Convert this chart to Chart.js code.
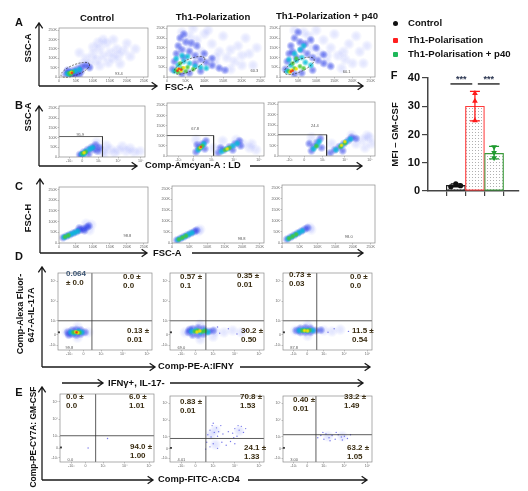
<!DOCTYPE html>
<html>
<head>
<meta charset="utf-8">
<script src="https://cdn.jsdelivr.net/npm/chart.js@4.4.1/dist/chart.umd.min.js"></script>
<style>
body { margin: 0; background: #fff; }
#fig { position: relative; width: 528px; height: 491px; overflow: hidden;
       font-family: "Liberation Sans", Arial, sans-serif; color: #111; }
.t { position: absolute; white-space: nowrap; font-weight: bold; line-height: 1; }
canvas { position: absolute; }
svg { position: absolute; left: 0; top: 0; }
</style>
</head>
<body>
<div id="fig"></div>
<script>
// ---- panel F: MFI of GM-CSF ----
const groups = ['Control', 'Th1-Polarisation', 'Th1-Polarisation + p40'];
const mfiMean = [2.0, 30.0, 13.3];
const mfiLow = [1.5, 24.8, 11.4];
const mfiHigh = [2.5, 35.3, 15.8];
const ctrlReps = [1.5, 2.5, 1.9];
const th1Reps = [34.6, 31.8, 24.9];
const p40Reps = [15.6, 13.6, 11.7];
const mfiTicks = [0, 10, 20, 30, 40];
const sigText = '***';
const sigLevel = 37.9;

// ---- flow plots: tick values / labels ----
const linTicks = [0, 50, 100, 150, 200, 250];
const linLabels = ['0', '50K', '100K', '150K', '200K', '250K'];
const biexXTicks = [0.52, 1.18, 2.0, 3.0, 4.13];
const biexYTicks = [0.26, 0.87, 1.65, 2.74, 3.87];
const biexLabels = ['-10³', '0', '10³', '10⁴', '10⁵'];

// ---- row A: FSC-A vs SSC-A (K units) ----
const cloudA1 = {
    haze: [[90,70],[110,90],[130,110],[150,130],[170,150],[120,150],[160,100],[100,120],[190,140],[140,180],[80,100],[210,110],[70,70],[120,60],[180,70],[130,200],[100,160],[160,200],[200,180],[60,130],[145,75],[175,115],[115,185],[225,150]],
    low: [[20,15],[30,25],[42,35],[55,45],[68,55],[80,62],[35,12],[50,20],[65,30],[25,35],[90,50],[45,8],[60,12]],
    mid: [[25,18],[35,25],[48,32],[60,40],[30,12]],
    high: [[30,20],[40,27],[34,16]],
    top: [[36,24]],
    peak: [[38,22]]
};
const cloudA2 = {
    haze: [[60,150],[80,190],[100,220],[120,170],[140,130],[160,100],[180,80],[200,60],[110,240],[150,210],[190,160],[220,120],[230,60],[170,40],[130,60],[40,230],[70,250],[210,200],[240,150],[90,130],[130,100],[60,210],[170,140],[200,110]],
    low: [[15,40],[20,80],[25,120],[30,160],[35,200],[45,100],[60,130],[75,110],[90,90],[105,75],[120,60],[140,45],[155,35],[60,20],[90,30],[40,15],[50,180],[80,160],[45,220],[65,175],[100,120],[120,95],[75,70],[40,140]],
    mid: [[20,30],[30,60],[45,80],[60,70],[75,55],[90,50],[40,110],[105,45],[25,95],[55,105]],
    high: [[25,35],[40,45],[55,50],[35,70],[70,40],[50,30],[30,25]],
    top: [[30,40],[45,48],[38,30]],
    peak: [[32,42],[38,38],[28,32]]
};
const cloudA3 = {
    haze: [[60,170],[80,210],[100,240],[120,190],[140,150],[160,110],[180,90],[200,70],[150,220],[190,170],[220,130],[230,70],[170,45],[130,70],[40,240],[210,210],[240,160],[110,120],[90,150],[130,110],[175,130],[65,230]],
    low: [[15,40],[20,80],[25,120],[30,160],[40,200],[50,230],[45,100],[60,140],[75,120],[90,100],[105,85],[120,70],[140,55],[60,20],[90,35],[40,15],[70,170],[100,150],[85,190],[55,180],[120,115],[35,130]],
    mid: [[20,30],[30,60],[45,85],[60,100],[70,75],[85,60],[40,120],[55,140],[25,90],[65,160]],
    high: [[25,30],[40,45],[55,55],[35,70],[65,45],[45,95]],
    top: [[32,35],[45,42],[28,25]],
    peak: [[35,33],[30,28]]
};
const gateA = [
    { cx: 48, cy: 38, rx: 45, ry: 28, rot: -22 },
    { cx: 60, cy: 60, rx: 45, ry: 30, rot: -25 },
    { cx: 53, cy: 57, rx: 45, ry: 30, rot: -25 }
];
const pctA = [['93.4', 165, 19], ['60.3', 223, 29], ['60.1', 173, 24]];

// ---- row B: live/dead vs SSC-A ----
const cloudB1 = {
    haze: [[2.2,30],[2.6,40],[3.0,35],[3.4,30],[3.8,25],[2.4,60],[2.8,20],[1.9,75],[4.1,30],[3.2,55],[2.3,15],[3.6,45]],
    low: [[1.05,12],[1.25,25],[1.45,38],[1.65,50],[1.85,62],[1.95,30],[1.5,15],[2.05,48],[1.15,8],[1.75,38]],
    mid: [[1.15,15],[1.35,28],[1.55,40],[1.7,48],[1.25,12]],
    high: [[1.2,18],[1.35,26]],
    top: [[1.27,22]],
    peak: []
};
const cloudB2 = {
    haze: [[2.1,40],[3.4,60],[3.7,40],[4.0,30],[2.5,75],[3.1,80],[1.3,80],[3.8,60]],
    low: [[1.3,20],[1.45,40],[1.6,60],[1.75,75],[1.35,55],[2.3,15],[2.55,30],[2.8,45],[3.05,60],[3.25,75],[2.95,30],[1.7,35],[3.3,50],[2.4,40]],
    mid: [[1.4,30],[1.55,45],[1.65,60],[2.45,22],[2.7,35],[2.95,50],[3.15,62]],
    high: [[1.45,38],[1.58,50],[2.6,30],[2.8,40]],
    top: [[1.5,42],[2.7,35]],
    peak: [[1.52,45]]
};
const cloudB3 = {
    haze: [[3.5,60],[3.8,80],[4.1,90],[3.9,40],[1.5,90],[2.4,60],[3.3,100],[4.2,60],[4.0,100]],
    low: [[1.5,25],[1.6,45],[1.75,65],[1.9,85],[1.95,40],[2.35,15],[2.55,30],[2.75,45],[2.95,60],[3.15,75],[3.3,90],[2.9,25],[3.5,85],[1.4,60]],
    mid: [[1.6,35],[1.75,52],[1.85,70],[2.6,30],[2.85,50],[3.05,68],[3.25,82]],
    high: [[1.72,48],[2.8,45],[3.0,62]],
    top: [[3.0,70],[2.85,52]],
    peak: []
};
const gateB = [[2.2, 105], [2.09, 101], [2.18, 103]];
const pctB = [['95.9', 0.88, 114], ['67.8', 1.09, 133], ['24.4', 1.48, 148]];

// ---- row C: FSC-A vs FSC-H ----
const cloudC1 = {
    haze: [[90,60],[95,85],[80,90]],
    low: [[12,25],[22,32],[32,39],[42,46],[52,53],[62,60],[72,67],[82,74],[88,80],[75,58],[60,70]],
    mid: [[15,27],[25,34],[35,41],[45,48],[55,55]],
    high: [[18,29],[28,36]]
};
const cloudC2 = {
    haze: [[75,55],[80,62]],
    low: [[14,13],[24,21],[34,29],[44,37],[54,45],[64,53],[70,58]],
    mid: [[17,15],[27,23],[37,31],[47,39],[57,47]],
    high: [[20,17],[30,25],[40,33]]
};
const cloudC3 = {
    haze: [[78,70],[82,60]],
    low: [[14,17],[24,26],[34,35],[44,44],[54,53],[64,62],[72,69]],
    mid: [[17,19],[27,28],[37,37],[47,46],[57,55]],
    high: [[20,21],[30,30],[40,39]]
};
const pctC = [['98.8', 190, 35], ['98.8', 187, 17], ['98.0', 177, 28]];

// ---- row D: IFNγ vs IL-17A ----
const cloudD1 = {
    haze: [[0.4,1.0],[1.4,1.0],[0.9,1.3],[0.9,0.7]],
    low: [[0.45,1.0],[0.65,0.9],[0.65,1.12],[0.85,0.85],[0.85,1.15],[1.05,0.9],[1.05,1.12],[1.25,1.0],[0.5,0.85]],
    mid: [[0.6,1.0],[0.75,0.95],[0.95,1.05],[1.1,1.0]],
    high: [[0.72,1.0],[0.88,1.0],[1.0,0.98]],
    top: [[0.82,1.02],[0.92,0.98]],
    peak: [[0.86,1.0]],
    edge: [[0.04,1.0]]
};
const cloudD2 = {
    haze: [[0.7,1.0],[2.1,1.05],[2.5,1.0],[2.9,1.1],[3.3,1.0],[1.4,1.45],[1.4,0.6],[2.0,0.75]],
    low: [[0.85,1.0],[1.05,1.2],[1.05,0.85],[1.3,1.25],[1.3,0.85],[1.55,1.2],[1.55,0.9],[1.8,1.05],[2.0,1.1],[0.9,1.15]],
    mid: [[1.0,1.05],[1.2,1.1],[1.4,1.0],[1.6,1.1],[1.75,1.0]],
    high: [[1.15,1.05],[1.3,1.1],[1.5,1.05],[1.62,1.08]],
    top: [[1.38,1.07],[1.25,1.02]],
    dots: [[2.3,0.95],[2.7,1.2],[3.1,0.9],[3.5,1.1],[2.2,1.3]],
    edge: [[0.04,1.0]]
};
const cloudD3 = {
    haze: [[0.6,1.1],[2.0,1.1],[2.4,1.05],[2.8,1.15],[1.2,1.4],[1.2,0.8]],
    low: [[0.65,1.1],[0.85,1.0],[0.85,1.22],[1.1,1.0],[1.1,1.25],[1.35,1.0],[1.35,1.22],[1.6,1.1],[1.85,1.12]],
    mid: [[0.8,1.1],[1.0,1.12],[1.2,1.1],[1.45,1.1]],
    high: [[0.95,1.1],[1.12,1.1],[1.3,1.12]],
    top: [[1.05,1.1],[1.2,1.08]],
    dots: [[2.2,1.0],[2.5,1.2],[3.2,1.05]],
    edge: [[0.04,1.0]]
};
const quadD = [[1.57, 1.65], [1.66, 1.65], [1.65, 1.65]];
const pctD = [['99.8', 0.35, 0.14], ['69.0', 0.35, 0.14], ['87.8', 0.35, 0.14]];
const dUL = [['0.064', '± 0.0'], ['0.57 ±', '0.1'], ['0.73 ±', '0.03']];
const dUR = [['0.0 ±', '0.0'], ['0.35 ±', '0.01'], ['0.0 ±', '0.0']];
const dLR = [['0.13 ±', '0.01'], ['30.2 ±', '0.50'], ['11.5 ±', '0.54']];

// ---- row E: CD4 vs GM-CSF (IFNγ+, IL-17-) ----
const cloudE1 = {
    dots: [[1.3,0.9],[2.2,1.5]],
    edge: [[0.04,0.93]]
};
const cloudE2 = {
    haze: [[2.1,2.1],[3.2,2.05],[2.1,1.15],[1.9,1.8]],
    dots: [[1.75,1.8],[1.85,2.1],[1.95,2.4],[2.05,1.95],[2.15,2.25],[2.25,2.0],[2.35,2.4],[2.45,1.85],[1.9,1.65],[2.2,1.7],[2.0,2.55],[2.9,1.9],[3.0,2.2],[3.1,1.7],[3.2,2.1],[3.3,2.35],[3.4,1.95],[3.5,2.2],[3.15,2.4],[2.95,1.6],[2.7,2.0],[1.7,1.3],[1.85,1.0],[2.0,1.2],[2.2,0.9],[2.4,1.3],[2.6,1.1],[1.65,0.85],[2.8,1.35],[3.0,1.2]],
    edge: [[0.04,0.93]]
};
const cloudE3 = {
    haze: [[2.2,1.7],[2.9,1.7]],
    dots: [[1.7,1.6],[1.85,1.75],[2.0,1.5],[2.1,1.85],[2.25,1.6],[2.4,1.75],[2.55,1.5],[2.7,1.8],[2.85,1.65],[3.0,1.7],[3.15,1.55],[3.3,1.8],[2.3,1.4],[2.6,1.95],[1.95,1.95],[2.9,1.45]],
    edge: [[0.04,0.93]]
};
const quadE = [[1.65, 1.68], [1.66, 1.55], [1.61, 1.8]];
const pctE = [['0.0', 0.35, 0.14], ['4.01', 0.35, 0.14], ['3.00', 0.35, 0.14]];
const eUL = [['0.0 ±', '0.0'], ['0.83 ±', '0.01'], ['0.40 ±', '0.01']];
const eUR = [['6.0 ±', '1.01'], ['70.8 ±', '1.53'], ['33.2 ±', '1.49']];
const eLR = [['94.0 ±', '1.00'], ['24.1 ±', '1.33'], ['63.2 ±', '1.05']];

// ===================== drawing =====================
const FAMILY = '"Liberation Sans", Arial, sans-serif';
Chart.defaults.font.family = FAMILY;
Chart.defaults.animation = false;
Chart.defaults.events = [];
Chart.defaults.plugins.legend.display = false;
Chart.defaults.plugins.tooltip.enabled = false;

const fig = document.getElementById('fig');

// density levels, drawn as soft blobs (higher order = drawn first)
const levelStyle = {
    haze: { r: 6.0, rgb: '70,90,250', a: 0.16, order: 8 },
    low:  { r: 4.6, rgb: '30,50,230', a: 0.6, order: 7 },
    mid:  { r: 3.7, rgb: '0,190,215', a: 0.9, order: 6 },
    high: { r: 3.0, rgb: '70,200,50', a: 0.95, order: 5 },
    top:  { r: 2.4, rgb: '250,225,0', a: 1, order: 4 },
    peak: { r: 1.9, rgb: '235,45,20', a: 1, order: 3 },
    dots: { r: 0.7, rgb: '95,95,230', a: 0.85, order: 2, solid: true },
    edge: { r: 1.3, rgb: '17,17,17', a: 1, order: 1, solid: true }
};

function softFill(st) {
    const flat = `rgba(${st.rgb},${st.a})`;
    if (st.solid) return flat;
    return c => {
        if (c.type !== 'data' || !c.parsed) return flat;
        const ch = c.chart;
        const px = ch.scales.x.getPixelForValue(c.parsed.x);
        const py = ch.scales.y.getPixelForValue(c.parsed.y);
        if (!isFinite(px) || !isFinite(py)) return flat;
        const g = ch.ctx.createRadialGradient(px, py, 0, px, py, st.r);
        g.addColorStop(0, flat);
        g.addColorStop(0.45, `rgba(${st.rgb},${st.a * 0.75})`);
        g.addColorStop(1, `rgba(${st.rgb},0)`);
        return g;
    };
}

function txt(s, x, y, size, opt = {}) {
    const d = document.createElement('div');
    d.className = 't';
    d.textContent = s;
    d.style.left = x + 'px';
    d.style.top = y + 'px';
    d.style.fontSize = size + 'px';
    if (opt.color) d.style.color = opt.color;
    const ax = opt.left ? '0' : '-50%';
    d.style.transform = `translate(${ax},-50%)` + (opt.rot ? ' rotate(-90deg)' : '');
    fig.appendChild(d);
}

function axisCfg(kind, horiz) {
    const vals = kind === 'lin' ? linTicks : (horiz ? biexXTicks : biexYTicks);
    const labels = kind === 'lin' ? linLabels : biexLabels;
    return {
        type: 'linear',
        min: 0,
        max: kind === 'lin' ? 262 : 4.35,
        afterBuildTicks: s => { s.ticks = vals.map(v => ({ value: v })); },
        afterFit: s => { if (horiz) s.height = 6; else s.width = 11; },
        ticks: {
            font: { size: 3.6 }, color: '#666', padding: 0.5,
            autoSkip: false, maxRotation: 0,
            callback: (v, i) => labels[i]
        },
        grid: { drawOnChartArea: false, tickLength: 1.5, color: '#888', lineWidth: 0.5 },
        border: { display: false }
    };
}

const framePlugin = {
    id: 'frame',
    afterDraw(chart) {
        const { ctx, chartArea: a } = chart;
        ctx.save();
        ctx.strokeStyle = '#8a8a8a';
        ctx.lineWidth = 0.7;
        ctx.strokeRect(a.left, a.top, a.right - a.left, a.bottom - a.top);
        ctx.restore();
    }
};

function flowPanel(frame, xKind, yKind, cloud, extra = {}) {
    const [fl, ft, fr, fb] = frame;
    const padL = 11, padB = 6, padT = 2, padR = 3;
    const w = fr - fl + padL + padR, h = fb - ft + padT + padB;
    const c = document.createElement('canvas');
    c.width = w; c.height = h;
    c.style.left = (fl - padL) + 'px';
    c.style.top = (ft - padT) + 'px';
    c.style.width = w + 'px';
    c.style.height = h + 'px';
    fig.appendChild(c);

    const xMax = xKind === 'lin' ? 262 : 4.35;
    const yMax = yKind === 'lin' ? 262 : 4.35;
    const datasets = [];
    Object.keys(cloud).forEach(k => {
        const st = levelStyle[k];
        datasets.push({
            data: cloud[k].map(([x, y]) => ({ x, y })),
            pointRadius: st.r,
            pointBackgroundColor: softFill(st),
            pointBorderWidth: 0,
            pointBorderColor: 'rgba(0,0,0,0)',
            pointStyle: k === 'edge' ? 'rect' : 'circle',
            order: st.order, clip: k === 'edge' ? false : 0
        });
    });
    const gateLine = pts => ({
        data: pts, showLine: true, pointRadius: 0, borderColor: '#333',
        borderWidth: 0.8, order: 0, clip: 0
    });
    if (extra.rect) {
        const [gx, gy] = extra.rect;
        datasets.push(gateLine([{ x: 0, y: gy }, { x: gx, y: gy }, { x: gx, y: 0 }]));
    }
    if (extra.quad) {
        const [qx, qy] = extra.quad;
        datasets.push(gateLine([{ x: qx, y: 0 }, { x: qx, y: yMax }]));
        datasets.push(gateLine([{ x: 0, y: qy }, { x: xMax, y: qy }]));
    }

    const gatePlugin = {
        id: 'gates',
        afterDatasetsDraw(chart) {
            const { ctx, scales: { x, y } } = chart;
            ctx.save();
            if (extra.ellipse) {
                const g = extra.ellipse;
                const px = x.getPixelForValue(g.cx), py = y.getPixelForValue(g.cy);
                const rx = x.getPixelForValue(g.cx + g.rx) - px;
                const ry = py - y.getPixelForValue(g.cy + g.ry);
                ctx.setLineDash([2, 1.3]);
                ctx.strokeStyle = '#333';
                ctx.lineWidth = 0.7;
                ctx.beginPath();
                ctx.ellipse(px, py, rx, ry, g.rot * Math.PI / 180, 0, Math.PI * 2);
                ctx.stroke();
                ctx.setLineDash([]);
            }
            if (extra.pct) {
                const [s, vx, vy] = extra.pct;
                ctx.fillStyle = '#555';
                ctx.font = '4px ' + FAMILY;
                ctx.textBaseline = 'middle';
                ctx.fillText(s, x.getPixelForValue(vx), y.getPixelForValue(vy));
            }
            ctx.restore();
        }
    };

    new Chart(c, {
        type: 'scatter',
        data: { datasets },
        options: {
            responsive: false,
            layout: { padding: { top: padT, right: padR, left: 0, bottom: 0 } },
            scales: { x: axisCfg(xKind, true), y: axisCfg(yKind, false) }
        },
        plugins: [framePlugin, gatePlugin]
    });
}

// panel frames (plot-area boxes, page pixels)
const framesA = [[59, 24, 151, 77], [167, 22, 268, 77], [280, 22, 378, 77]];
const framesB = [[59, 102, 148, 157], [167, 99, 267, 156], [278, 98, 378, 156]];
const framesC = [[59, 183, 151, 243], [172, 182, 267, 243], [282, 181, 378, 243]];
const framesD = [[58, 269, 155, 350], [170, 269, 267, 350], [283, 269, 375, 350]];
const framesE = [[60, 392, 155, 462], [170, 392, 267, 462], [283, 392, 375, 462]];

[cloudA1, cloudA2, cloudA3].forEach((cl, i) =>
    flowPanel(framesA[i], 'lin', 'lin', cl, { ellipse: gateA[i], pct: pctA[i] }));
[cloudB1, cloudB2, cloudB3].forEach((cl, i) =>
    flowPanel(framesB[i], 'biex', 'lin', cl, { rect: gateB[i], pct: pctB[i] }));
[cloudC1, cloudC2, cloudC3].forEach((cl, i) =>
    flowPanel(framesC[i], 'lin', 'lin', cl, { pct: pctC[i] }));
[cloudD1, cloudD2, cloudD3].forEach((cl, i) =>
    flowPanel(framesD[i], 'biex', 'biex', cl, { quad: quadD[i], pct: pctD[i] }));
[cloudE1, cloudE2, cloudE3].forEach((cl, i) =>
    flowPanel(framesE[i], 'biex', 'biex', cl, { quad: quadE[i], pct: pctE[i] }));

// quadrant percentages
const BROWN = '#3a2d12';
function quadText(sets, posList) {
    sets.forEach((set, q) => set.forEach((pair, p) => {
        const [x, y] = posList[p][q];
        txt(pair[0], x, y, 8, { left: true, color: (set === dUL && p === 0) ? '#3c5573' : BROWN });
        txt(pair[1], x, y + 9, 8, { left: true, color: BROWN });
    }));
}
const dPos = [[[66, 274], [123, 277], [127, 331]], [[180, 277], [237, 276], [241, 331]], [[289, 275], [350, 277], [352, 331]]];
const ePos = [[[66, 397], [129, 397], [130, 447]], [[180, 402], [240, 397], [244, 448]], [[293, 400], [344, 397], [347, 448]]];
quadText([dUL, dUR, dLR], dPos);
quadText([eUL, eUR, eLR], ePos);

// ---- arrows ----
const arrows = [
    [39, 86, 39, 23], [39, 86, 157, 86], [200, 86, 363, 86],
    [39, 166, 39, 106], [39, 166, 137, 166], [250, 166, 362, 166],
    [40, 253, 40, 179], [40, 253, 147, 253], [192, 253, 363, 253],
    [42, 367, 42, 267], [42, 367, 155, 367], [240, 367, 370, 367],
    [62, 383, 103, 383], [170, 383, 363, 383],
    [42, 480, 42, 387], [42, 480, 153, 480], [248, 480, 367, 480]
];
const NS = 'http://www.w3.org/2000/svg';
const svg = document.createElementNS(NS, 'svg');
svg.setAttribute('width', 528);
svg.setAttribute('height', 491);
let path = '';
arrows.forEach(([x1, y1, x2, y2]) => {
    path += `M${x1} ${y1}L${x2} ${y2}`;
    const a = Math.atan2(y2 - y1, x2 - x1), L = 6.5, s = 0.6;
    const ax = x2 - L * Math.cos(a - s), ay = y2 - L * Math.sin(a - s);
    const bx = x2 - L * Math.cos(a + s), by = y2 - L * Math.sin(a + s);
    path += `M${ax} ${ay}L${x2} ${y2}L${bx} ${by}`;
});
const pe = document.createElementNS(NS, 'path');
pe.setAttribute('d', path);
pe.setAttribute('stroke', '#1a1a1a');
pe.setAttribute('stroke-width', '1.3');
pe.setAttribute('fill', 'none');
svg.appendChild(pe);
fig.appendChild(svg);

// ---- figure texts ----
txt('A', 19, 22, 11);
txt('B', 19, 105, 11);
txt('C', 19, 186, 11);
txt('D', 19, 256, 11);
txt('E', 19, 392, 11);
txt('F', 394, 75, 11);
txt('Control', 97, 18, 9.6);
txt('Th1-Polarization', 213, 17, 9.6);
txt('Th1-Polarization + p40', 327, 16, 9.6);
txt('SSC-A', 29, 48, 9.3, { rot: true });
txt('SSC-A', 29, 117, 9.3, { rot: true });
txt('FSC-H', 29, 218, 9.3, { rot: true });
txt('Comp-Alexa Fluor-', 20, 314, 9, { rot: true });
txt('647-A-IL-17A', 31, 315, 9, { rot: true });
txt('Comp-PE-CY7A: GM-CSF', 33, 437, 8.4, { rot: true });
txt('FSC-A', 165, 87, 9.4, { left: true });
txt('Comp-Amcyan-A : LD', 145, 166, 9.3, { left: true });
txt('FSC-A', 153, 253, 9.4, { left: true });
txt('Comp-PE-A:IFNY', 158, 367, 9.3, { left: true });
txt('IFNγ+, IL-17-', 108, 383, 9.5, { left: true });
txt('Comp-FITC-A:CD4', 158, 480, 9.3, { left: true });

// legend
const legendColors = ['#111', '#ff1f1f', '#1fb85a'];
groups.forEach((g, i) => {
    const y = [23, 40, 54][i];
    const m = document.createElement('div');
    m.style.cssText = `position:absolute;left:393px;top:${y - 2.5}px;width:5px;height:5px;background:${legendColors[i]};border-radius:${i === 0 ? 3 : 1}px`;
    fig.appendChild(m);
    txt(g, 408, y, 9.6, { left: true });
});

// ---- panel F chart ----
const cF = document.createElement('canvas');
cF.width = 146; cF.height = 132;
cF.style.cssText = 'left:378px;top:68px;width:146px;height:132px';
fig.appendChild(cF);

function dotPattern() {
    const p = document.createElement('canvas');
    p.width = 3; p.height = 3;
    const g = p.getContext('2d');
    g.fillStyle = '#fff';
    g.fillRect(0, 0, 3, 3);
    g.fillStyle = '#b0b0b0';
    g.fillRect(1, 1, 1, 1);
    return cF.getContext('2d').createPattern(p, 'repeat');
}

const barColors = ['#222', '#ff3a3a', '#3a9a3a'];
const repColors = ['#111', '#ff1a1a', '#1f9a2f'];
const ctrlJitter = [-0.26, 0, 0.25];
const sigSpans = [[0.72, 1.86], [2.15, 3.29]];

const errorBarPlugin = {
    id: 'errbars',
    afterDatasetDraw(chart, args) {
        if (args.index !== 3) return;
        const { ctx, scales: { x, y } } = chart;
        ctx.save();
        ctx.lineWidth = 1.3;
        mfiMean.forEach((m, i) => {
            const px = x.getPixelForValue(i + 1);
            const lo = y.getPixelForValue(mfiLow[i]), hi = y.getPixelForValue(mfiHigh[i]);
            ctx.strokeStyle = repColors[i];
            ctx.beginPath();
            ctx.moveTo(px, lo); ctx.lineTo(px, hi);
            ctx.moveTo(px - 5, lo); ctx.lineTo(px + 5, lo);
            ctx.moveTo(px - 5, hi); ctx.lineTo(px + 5, hi);
            ctx.stroke();
        });
        ctx.restore();
    },
    afterDraw(chart) {
        const { ctx, scales: { x, y } } = chart;
        ctx.save();
        ctx.strokeStyle = '#222';
        ctx.lineWidth = 1.4;
        ctx.fillStyle = '#2a3550';
        ctx.font = 'bold 9px ' + FAMILY;
        ctx.textAlign = 'center';
        ctx.textBaseline = 'middle';
        const py = y.getPixelForValue(sigLevel);
        sigSpans.forEach(([a, b]) => {
            const xa = x.getPixelForValue(a), xb = x.getPixelForValue(b);
            ctx.beginPath();
            ctx.moveTo(xa, py); ctx.lineTo(xb, py);
            ctx.stroke();
            ctx.fillText(sigText, (xa + xb) / 2, py - 4.5);
        });
        ctx.restore();
    }
};

new Chart(cF, {
    type: 'bar',
    data: {
        datasets: [
            { type: 'scatter', data: ctrlReps.map((v, k) => ({ x: 1 + ctrlJitter[k], y: v })),
              pointStyle: 'circle', pointRadius: 2.6, pointBackgroundColor: repColors[0], pointBorderWidth: 0, order: 0 },
            { type: 'scatter', data: th1Reps.map(v => ({ x: 2, y: v })),
              pointStyle: 'triangle', pointRadius: 3.3, pointBackgroundColor: repColors[1], pointBorderWidth: 0, order: 0 },
            { type: 'scatter', data: p40Reps.map(v => ({ x: 3, y: v })),
              pointStyle: 'triangle', pointRotation: 180, pointRadius: 3.3, pointBackgroundColor: repColors[2], pointBorderWidth: 0, order: 0 },
            { type: 'bar', data: mfiMean.map((v, i) => ({ x: i + 1, y: v })),
              backgroundColor: dotPattern(), borderColor: barColors, borderWidth: 1.2,
              borderSkipped: false, barThickness: 19, order: 5 }
        ]
    },
    options: {
        responsive: false,
        layout: { padding: { top: 10, right: 5, left: 0, bottom: 0 } },
        scales: {
            x: {
                type: 'linear', min: 0.34, max: 3.51,
                afterBuildTicks: s => { s.ticks = [1, 2, 3].map(v => ({ value: v })); },
                afterFit: s => { s.height = 9; },
                ticks: { callback: () => '', padding: 0 },
                grid: { drawOnChartArea: false, tickLength: 5, color: '#444', lineWidth: 1.2 },
                border: { color: '#444', width: 1.5 }
            },
            y: {
                min: 0, max: 40,
                afterBuildTicks: s => { s.ticks = mfiTicks.map(v => ({ value: v })); },
                afterFit: s => { s.width = 50; },
                ticks: { font: { size: 11, weight: 'bold' }, color: '#111', padding: 2 },
                grid: { drawOnChartArea: false, tickLength: 6, color: '#444', lineWidth: 1.2 },
                border: { color: '#444', width: 1.5 },
                title: { display: true, text: 'MFI – GM-CSF', color: '#111',
                         font: { size: 9.5, weight: 'bold' }, padding: { top: 12, bottom: 0 } }
            }
        }
    },
    plugins: [errorBarPlugin]
});
</script>
</body>
</html>
